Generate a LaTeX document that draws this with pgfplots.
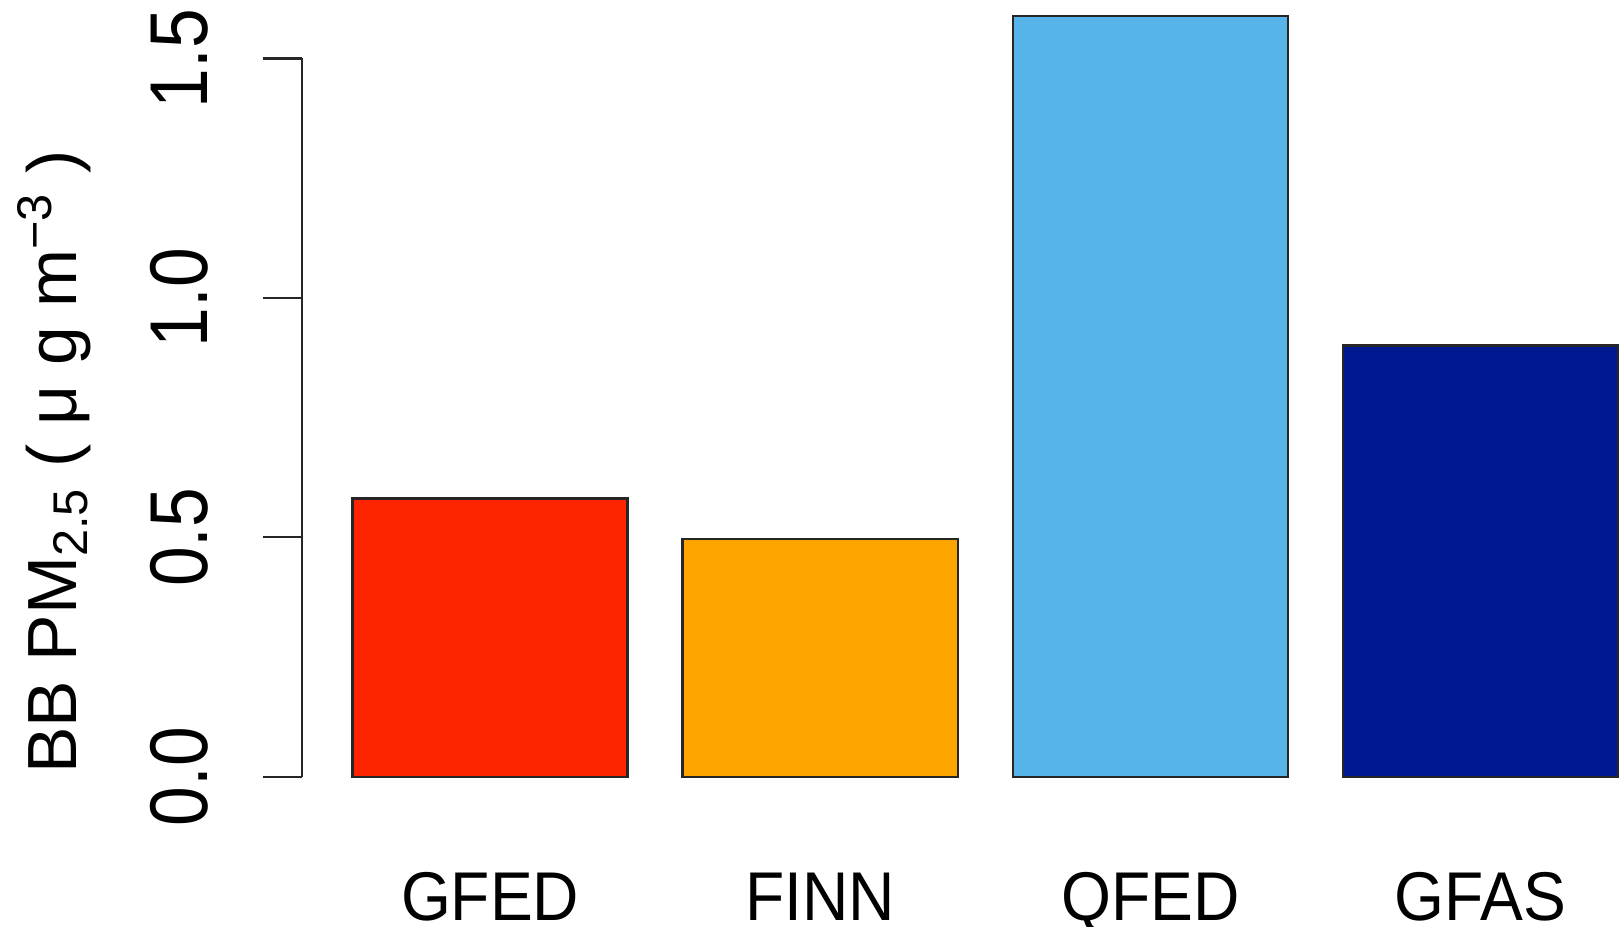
\documentclass[border=0pt]{standalone}
\usepackage{fontspec}
\setmainfont{Liberation Sans}
\newfontfamily\yticksfont[FakeStretch=0.87]{Liberation Sans}
\newfontfamily\xticksfont[FakeStretch=0.93]{Liberation Sans}
\usepackage{pgfplots}
\pgfplotsset{compat=1.18}
\definecolor{gfedred}{HTML}{FF2400}
\definecolor{finnorange}{HTML}{FFA500}
\definecolor{qfedblue}{HTML}{56B4E9}
\definecolor{gfasnavy}{HTML}{00188F}

\begin{document}
\begin{tikzpicture}
\begin{axis}[
    scale only axis,
    width=341.55pt, height=205.39pt,
    xmin=0.016, xmax=4.984,
    ymin=-0.0635, ymax=1.652,
    clip=false,
    axis line style={draw=none},
    xtick={0.7,1.9,3.1,4.3},
    xticklabels={GFED,FINN,QFED,GFAS},
    xtick style={draw=none},
    ytick={0,0.5,1,1.5},
    yticklabels={0.0,0.5,1.0,1.5},
    ytick pos=left,
    tick align=outside,
    major tick length=9.75pt,
    ytick style={black!85, line width=0.55pt},
    xticklabel style={font=\xticksfont\fontsize{17.25}{20}\selectfont, yshift=-18.5pt, anchor=base},
    yticklabel style={font=\yticksfont\fontsize{20.5}{24}\selectfont, xshift=-14pt, rotate=90, anchor=base},
    ylabel={BB PM\textsubscript{2.5} ( μ g m\textsuperscript{−3} )},
    ylabel style={font=\fontsize{17.4}{20}\selectfont, at={(rel axis cs:-0.165,0.4206)}, anchor=base},
]
\addplot[ybar, bar width=1, bar shift=0pt, fill=gfedred, draw=black!85, line width=0.6pt]
    coordinates {(0.7,0.581)};
\addplot[ybar, bar width=1, bar shift=0pt, fill=finnorange, draw=black!85, line width=0.6pt]
    coordinates {(1.9,0.497)};
\addplot[ybar, bar width=1, bar shift=0pt, fill=qfedblue, draw=black!85, line width=0.6pt]
    coordinates {(3.1,1.588)};
\addplot[ybar, bar width=1, bar shift=0pt, fill=gfasnavy, draw=black!85, line width=0.6pt]
    coordinates {(4.3,0.901)};
% R draws the y axis line only from the first to the last tick
\draw[black!85, line width=0.55pt] (axis cs:0.016,0) -- (axis cs:0.016,1.5);
\coordinate (bl) at (axis cs:-1.0825,-0.3136);
\coordinate (tr) at (axis cs:4.812,1.622);
\end{axis}
\pgfresetboundingbox
\useasboundingbox (bl) rectangle (tr);
\end{tikzpicture}
\end{document}
